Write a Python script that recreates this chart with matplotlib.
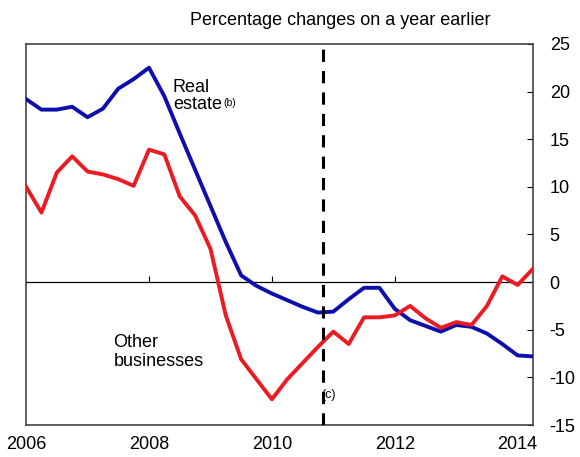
import matplotlib
matplotlib.use('Agg')
import matplotlib.pyplot as plt
import numpy as np

# quarterly, 2006 Q1 .. 2014 Q2
quarters = np.arange(34) * 0.25 + 2006
real_estate = [19.2, 18.1, 18.1, 18.4, 17.3, 18.2, 20.3, 21.3, 22.5,
               19.5, 15.6, 11.8, 8.0, 4.2, 0.7, -0.4, -1.2, -1.9, -2.6,
               -3.2, -3.1, -1.8, -0.6, -0.6, -2.8, -4.0, -4.6, -5.2,
               -4.5, -4.7, -5.4, -6.5, -7.7, -7.8]
other_businesses = [10.0, 7.3, 11.5, 13.2, 11.6, 11.3, 10.8, 10.1, 13.9,
                    13.4, 9.0, 7.0, 3.5, -3.5, -8.1, -10.2, -12.3, -10.2,
                    -8.5, -6.8, -5.2, -6.5, -3.7, -3.7, -3.5, -2.5, -3.8,
                    -4.8, -4.2, -4.5, -2.5, 0.6, -0.3, 1.4]
year_ticks = [2006, 2008, 2010, 2012, 2014]
value_ticks = [-15, -10, -5, 0, 5, 10, 15, 20, 25]
break_date = 2010.83

plt.rcParams['font.family'] = ['Liberation Sans', 'DejaVu Sans']
plt.rcParams['axes.unicode_minus'] = False

fig = plt.figure(figsize=(5.8, 4.57), dpi=100)
ax = fig.add_axes([0.045, 0.070, 0.874, 0.834])

ax.plot(quarters, real_estate, color='#0c0fae', lw=2.8, zorder=3)
ax.plot(quarters, other_businesses, color='#ea1b22', lw=2.8, zorder=4)
ax.axhline(0, color='black', lw=0.9, zorder=2)
ax.axvline(break_date, color='black', lw=2.2, dashes=(4, 3), zorder=5)

ax.set_xlim(2006, 2014.25)
ax.set_ylim(-15, 25)

ax.yaxis.tick_right()
ax.set_yticks(value_ticks)
ax.tick_params(axis='y', direction='in', length=4, labelsize=13, pad=12)
ax.set_xticks(year_ticks)
ax.tick_params(axis='x', length=0, labelsize=13, pad=8)

# small ticks on the zero line
zero_axis = ax.secondary_xaxis(15 / 40)
zero_axis.set_xticks(year_ticks[1:4])
zero_axis.tick_params(direction='in', length=4, labelbottom=False)
zero_axis.spines['bottom'].set_visible(False)

for s in ax.spines.values():
    s.set_linewidth(1.2)
    s.set_color('#444444')

ax.text(2008.39, 19.96, 'Real', fontsize=13, va='baseline')
estate = ax.text(2008.39, 18.2, 'estate', fontsize=13, va='baseline')
ax.annotate('(b)', xy=(1, 1), xycoords=estate, xytext=(1, -2), textcoords='offset points',
            fontsize=7.5, va='top', ha='left')
ax.text(2007.42, -6.8, 'Other', fontsize=13, va='baseline')
ax.text(2007.42, -8.8, 'businesses', fontsize=13, va='baseline')
ax.text(break_date - 0.02, -11.8, '(c)', fontsize=9, va='center')

fig.text(0.586, 0.956, 'Percentage changes on a year earlier', ha='center', va='center', fontsize=13)

fig.savefig('out.png', dpi=100)
